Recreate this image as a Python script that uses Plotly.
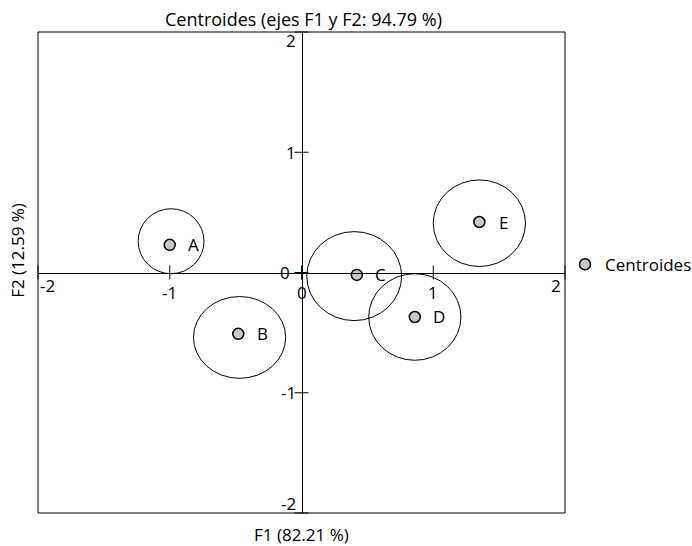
import plotly.graph_objects as go

# ---- data ----
labels = ["A", "B", "C", "D", "E"]
f1 = [-1.00, -0.48, 0.42, 0.86, 1.35]
f2 = [0.23, -0.51, -0.02, -0.37, 0.42]
# confidence ellipses: centre and radii in axis units
ell_cx = [-0.99, -0.47, 0.40, 0.86, 1.35]
ell_cy = [0.26, -0.54, -0.03, -0.37, 0.41]
ell_rx = [0.25, 0.35, 0.36, 0.35, 0.35]
ell_ry = [0.27, 0.34, 0.37, 0.36, 0.36]
tick_vals = [-2, -1, 0, 1, 2]
tick_text = ["-2", "-1", "0", "1", "2"]

FONT = "Open Sans"
FS = 17

fig = go.Figure()

# crossing tick marks on the central axes
fig.add_trace(go.Scatter(
    x=tick_vals, y=[0] * len(tick_vals), mode="markers", showlegend=False, hoverinfo="skip",
    marker=dict(symbol="line-ns", size=10, line=dict(color="black", width=1)),
    cliponaxis=False,
))
fig.add_trace(go.Scatter(
    x=[0] * len(tick_vals), y=tick_vals, mode="markers", showlegend=False, hoverinfo="skip",
    marker=dict(symbol="line-ew", size=10, line=dict(color="black", width=1)),
    cliponaxis=False,
))

fig.add_trace(go.Scatter(
    x=f1, y=f2, mode="markers", name="Centroides",
    marker=dict(size=11, color="#c8c8c8", line=dict(color="black", width=1.5)),
    cliponaxis=False,
))

for lab, x, y in zip(labels, f1, f2):
    fig.add_annotation(x=x, y=y, text=lab, showarrow=False, xref="x", yref="y",
                       xshift=24, font=dict(family=FONT, size=FS, color="black"))

for cx, cy, rx, ry in zip(ell_cx, ell_cy, ell_rx, ell_ry):
    fig.add_shape(type="circle", xref="x", yref="y",
                  x0=cx - rx, x1=cx + rx, y0=cy - ry, y1=cy + ry,
                  line=dict(color="black", width=1), layer="below")

fig.add_shape(type="rect", xref="paper", yref="paper", x0=0, x1=1, y0=0, y1=1,
              line=dict(color="black", width=1))

# tick labels placed next to the central axes
vmin, vmax = min(tick_vals), max(tick_vals)
for v, t in zip(tick_vals, tick_text):
    end = v in (vmin, vmax)
    fig.add_annotation(x=v, y=0, xref="x", yref="y", text=t, showarrow=False,
                       xanchor="center", yanchor="middle",
                       xshift=(9 if v == vmin else -9 if v == vmax else 0),
                       yshift=(-13 if end else -20),
                       font=dict(family=FONT, size=FS, color="black"))
    fig.add_annotation(x=0, y=v, xref="x", yref="y", text=t, showarrow=False,
                       xanchor="right", yanchor="middle",
                       xshift=(-10 if v == 0 else -4),
                       yshift=(-8 if v == vmax else 10 if v == vmin else 0),
                       font=dict(family=FONT, size=FS, color="black"))

common = dict(range=[-2, 2], showgrid=False, zeroline=False, showticklabels=False,
              ticks="", anchor="free", position=0.5, automargin=False,
              showline=True, linecolor="black", linewidth=1)

fig.update_layout(
    width=692, height=546,
    margin=dict(l=38, r=127, t=32, b=33, autoexpand=False),
    paper_bgcolor="white", plot_bgcolor="white",
    font=dict(family=FONT, size=FS, color="black"),
    xaxis=common,
    yaxis=common,
    showlegend=True,
    legend=dict(x=1.0, y=0.516, xanchor="left", yanchor="middle",
                font=dict(family=FONT, size=FS), bgcolor="rgba(0,0,0,0)"),
)

fig.add_annotation(text="Centroides (ejes F1 y F2: 94.79 %)", xref="paper", yref="paper",
                   x=0.503, y=1.027, xanchor="center", yanchor="middle", showarrow=False,
                   font=dict(family=FONT, size=18))
fig.add_annotation(text="F1 (82.21 %)", xref="paper", yref="paper",
                   x=0.5, y=-0.0437, xanchor="center", yanchor="middle", showarrow=False,
                   font=dict(family=FONT, size=FS))
fig.add_annotation(text="F2 (12.59 %)", xref="paper", yref="paper", textangle=-90,
                   x=-0.038, y=0.547, xanchor="center", yanchor="middle", showarrow=False,
                   font=dict(family=FONT, size=FS))

fig.write_html("out.html", config={"displayModeBar": False},
               post_script="document.body.style.margin='0';")
